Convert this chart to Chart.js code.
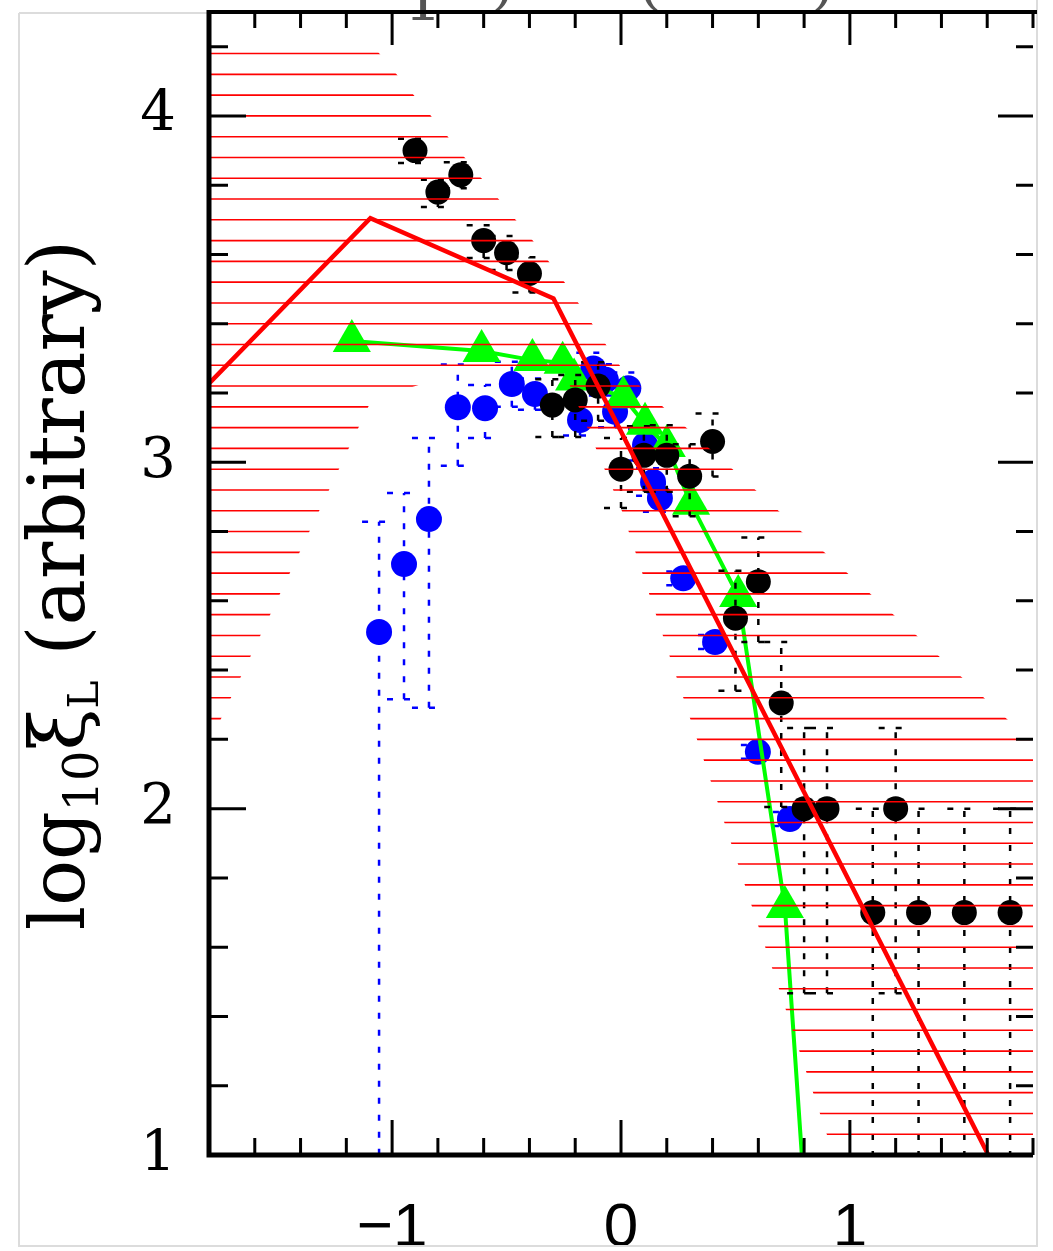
<!DOCTYPE html>
<html>
<head>
<meta charset="utf-8">
<script src="https://cdn.jsdelivr.net/npm/chart.js"></script>
<style>
  body { margin: 0; background: #fff; }
  #wrap { width: 1053px; height: 1251px; }
</style>
</head>
<body>
<div id="wrap"><canvas id="chart" width="1053" height="1251"></canvas></div>
<script>
// values: log10 xi_L (arbitrary) against x

// black circles, dashed error bars
var blackX = [-0.9, -0.8, -0.7, -0.6, -0.5, -0.4, -0.3, -0.2, -0.1, 0.0, 0.1, 0.2, 0.3, 0.4, 0.5, 0.6, 0.7, 0.8, 0.9, 1.1, 1.2, 1.3, 1.5, 1.7];
var blackY = [3.90, 3.78, 3.83, 3.64, 3.605, 3.545, 3.165, 3.18, 3.22, 2.98, 3.02, 3.02, 2.96, 3.06, 2.55, 2.655, 2.305, 2.0, 2.0, 1.7, 2.0, 1.7, 1.7, 1.7];
var blackErrUp = [0.034, 0.036, 0.036, 0.044, 0.048, 0.047, 0.075, 0.072, 0.069, 0.09, 0.084, 0.087, 0.092, 0.081, 0.137, 0.128, 0.176, 0.233, 0.233, 0.30, 0.233, 0.30, 0.30, 0.30];
var blackErrDown = [0.036, 0.043, 0.039, 0.05, 0.05, 0.055, 0.092, 0.107, 0.10, 0.112, 0.105, 0.105, 0.116, 0.101, 0.21, 0.174, 0.30, 0.533, 0.533, 1.0, 0.533, 1.0, 1.0, 1.0];

// blue circles, dotted error bars
var blueX = [-1.057, -0.948, -0.839, -0.713, -0.594, -0.477, -0.376, -0.179, -0.121, -0.066, -0.026, 0.032, 0.105, 0.14, 0.17, 0.272, 0.411, 0.598, 0.738];
var blueY = [2.51, 2.706, 2.836, 3.159, 3.156, 3.226, 3.197, 3.122, 3.271, 3.238, 3.146, 3.214, 3.05, 2.943, 2.897, 2.665, 2.481, 2.164, 1.97];
var blueErrUp = [0.318, 0.205, 0.234, 0.123, 0.067, 0.064, 0.045, 0.045, 0.045, 0.045, 0.045, 0.045, 0.045, 0.04, 0.04, 0.02, 0.02, 0.02, 0.02];
var blueErrDown = [2.0, 0.39, 0.545, 0.169, 0.086, 0.066, 0.045, 0.045, 0.045, 0.045, 0.045, 0.045, 0.045, 0.04, 0.04, 0.02, 0.02, 0.02, 0.02];

// green triangles joined by a line
var greenX = [-1.176, -0.609, -0.387, -0.255, -0.205, 0.01, 0.105, 0.20, 0.306, 0.512, 0.716, 0.82];
var greenY = [3.35, 3.321, 3.295, 3.287, 3.239, 3.188, 3.111, 3.047, 2.88, 2.614, 1.716, 0.71];

// red broken line
var redX = [-1.9, -1.095, -0.295, 1.7];
var redY = [3.16, 3.705, 3.473, 0.876];

// hatched band: outer and inner edges
var bandOuterX = [-1.9, -1.08, -0.83, -0.607, -0.384, -0.245, -0.004, 0.087, 0.485, 0.887, 1.289, 1.686, 1.9];
var bandOuterY = [4.2, 4.2, 4.0, 3.818, 3.639, 3.518, 3.278, 3.217, 2.981, 2.741, 2.501, 2.259, 2.13];
var bandInnerX = [-1.9, -1.09, -0.85, -0.55, -0.235, 0.004, 0.9, 1.9];
var bandInnerY = [2.046, 3.18, 3.23, 3.265, 3.24, 2.859, 1.058, -0.95];

function pts(xs, ys) {
  return xs.map(function (x, i) { return { x: x, y: ys[i] }; });
}

var serif = "'DejaVu Serif', 'Liberation Serif', serif";

function isStep(v) { return Math.abs(v / 0.2 - Math.round(v / 0.2)) < 1e-6; }
function isInt(v) { return Math.abs(v - Math.round(v)) < 1e-6; }

var errorBars = {
  id: 'errorBars',
  beforeDatasetDraw: function (chart, args) {
    var ds = chart.data.datasets[args.index];
    if (!ds.errUp) return;
    var ctx = chart.ctx, ys = chart.scales.y, a = chart.chartArea;
    ctx.save();
    ctx.beginPath();
    ctx.rect(a.left, a.top, a.right - a.left, a.bottom - a.top);
    ctx.clip();
    ctx.strokeStyle = ds.errColor;
    ctx.lineWidth = 2.5;
    ctx.setLineDash([6, 11]);
    args.meta.data.forEach(function (p, i) {
      var v = ds.data[i].y;
      var top = ys.getPixelForValue(v + ds.errUp[i]);
      var bot = ys.getPixelForValue(v - ds.errDown[i]);
      ctx.beginPath();
      ctx.moveTo(p.x, bot); ctx.lineTo(p.x, top);
      ctx.moveTo(p.x - 17, top); ctx.lineTo(p.x + 17, top);
      ctx.moveTo(p.x - 17, bot); ctx.lineTo(p.x + 17, bot);
      ctx.stroke();
    });
    ctx.restore();
  }
};

var hatch = {
  id: 'hatch',
  afterDatasetsDraw: function (chart) {
    var ctx = chart.ctx, a = chart.chartArea, ys = chart.scales.y;
    var outer = chart.getDatasetMeta(0).data, inner = chart.getDatasetMeta(1).data;
    ctx.save();
    ctx.beginPath();
    ctx.rect(a.left, a.top, a.right - a.left, a.bottom - a.top);
    ctx.clip();
    ctx.beginPath();
    outer.forEach(function (p, i) { if (i) ctx.lineTo(p.x, p.y); else ctx.moveTo(p.x, p.y); });
    for (var i = inner.length - 1; i >= 0; i--) ctx.lineTo(inner[i].x, inner[i].y);
    ctx.closePath();
    ctx.clip();
    ctx.strokeStyle = '#ff0000';
    ctx.lineWidth = 1.6;
    for (var k = 0; k < 60; k++) {
      var v = 4.18 - 0.06 * k;
      if (v < ys.min) break;
      var py = ys.getPixelForValue(v);
      ctx.beginPath();
      ctx.moveTo(a.left, py);
      ctx.lineTo(a.right, py);
      ctx.stroke();
    }
    ctx.restore();
  }
};

var frame = {
  id: 'frame',
  afterDraw: function (chart) {
    var ctx = chart.ctx, a = chart.chartArea, xs = chart.scales.x, ys = chart.scales.y;
    ctx.save();

    // faint edges of the cropped figure
    ctx.strokeStyle = '#dcdcdc';
    ctx.lineWidth = 2;
    ctx.beginPath();
    ctx.moveTo(19, 13); ctx.lineTo(19, 1246); ctx.lineTo(1038, 1246);
    ctx.moveTo(1037, 0); ctx.lineTo(1037, 1246);
    ctx.moveTo(19, 13); ctx.lineTo(a.left, 13);
    ctx.stroke();

    // bottoms of the cut-off heading
    ctx.fillStyle = '#555';
    ctx.font = '60px ' + serif;
    ctx.textAlign = 'center';
    ctx.textBaseline = 'alphabetic';
    ctx.fillText('1', 423, a.top + 9);
    ctx.fillText(')', 503, a.top - 9);
    ctx.fillText('(', 650, a.top - 9);
    ctx.fillText(')', 823, a.top - 9);

    // axis lines
    ctx.strokeStyle = '#000';
    ctx.lineWidth = 4;
    ctx.beginPath();
    ctx.moveTo(a.left, a.top); ctx.lineTo(a.right + 4, a.top);
    ctx.stroke();
    ctx.lineWidth = 5;
    ctx.beginPath();
    ctx.moveTo(a.left, a.top - 2); ctx.lineTo(a.left, a.bottom); ctx.lineTo(a.right, a.bottom);
    ctx.stroke();

    // inward ticks on all four sides
    ctx.lineWidth = 3;
    ctx.beginPath();
    xs.ticks.forEach(function (t) {
      if (!isStep(t.value)) return;
      var px = xs.getPixelForValue(t.value);
      var big = isInt(t.value);
      ctx.moveTo(px, a.bottom); ctx.lineTo(px, a.bottom - (big ? 35 : 17));
      ctx.moveTo(px, a.top); ctx.lineTo(px, a.top + (big ? 33 : 16));
    });
    ys.ticks.forEach(function (t) {
      if (!isStep(t.value)) return;
      var py = ys.getPixelForValue(t.value);
      var big = isInt(t.value);
      ctx.moveTo(a.left, py); ctx.lineTo(a.left + (big ? 37 : 19), py);
      ctx.moveTo(a.right, py); ctx.lineTo(a.right - (big ? 35 : 17), py);
    });
    ctx.stroke();

    // y title: log10 xi_L (arbitrary)
    var parts = [
      { t: 'log', s: 76, dy: 0 },
      { t: '10', s: 48, dy: 14 },
      { t: '\u03be', s: 76, dy: 0 },
      { t: 'L', s: 42, dy: 14 },
      { t: ' (arbitrary)', s: 78, dy: 0 }
    ];
    var total = 0;
    parts.forEach(function (p) { ctx.font = p.s + 'px ' + serif; p.w = ctx.measureText(p.t).width; total += p.w; });
    ctx.translate(84, 585 + total / 2);
    ctx.rotate(-Math.PI / 2);
    ctx.fillStyle = '#000';
    ctx.textAlign = 'left';
    var cx = 0;
    parts.forEach(function (p) {
      ctx.font = p.s + 'px ' + serif;
      ctx.fillText(p.t, cx, p.dy);
      cx += p.w;
    });
    ctx.restore();
  }
};

new Chart(document.getElementById('chart'), {
  type: 'scatter',
  data: {
    datasets: [
      { data: pts(bandOuterX, bandOuterY), showLine: false, pointRadius: 0, order: 10 },
      { data: pts(bandInnerX, bandInnerY), showLine: false, pointRadius: 0, order: 10 },
      {
        data: pts(blueX, blueY), errUp: blueErrUp, errDown: blueErrDown, errColor: '#0000ff',
        pointRadius: 13, pointBackgroundColor: '#0000ff', pointBorderWidth: 0, order: 5
      },
      {
        data: pts(greenX, greenY), showLine: true, borderColor: '#00ff00', borderWidth: 4,
        pointStyle: 'triangle', pointRadius: 22, pointBackgroundColor: '#00ff00', pointBorderWidth: 0,
        clip: 0, order: 4
      },
      {
        data: pts(blackX, blackY), errUp: blackErrUp, errDown: blackErrDown, errColor: '#000000',
        pointRadius: 12.5, pointBackgroundColor: '#000000', pointBorderWidth: 0, order: 3
      },
      {
        data: pts(redX, redY), showLine: true, borderColor: '#ff0000', borderWidth: 4.5,
        pointRadius: 0, clip: 0, order: 2
      }
    ]
  },
  options: {
    responsive: false,
    animation: false,
    events: [],
    layout: { autoPadding: false, padding: { left: 0, right: 20, top: 12, bottom: 0 } },
    plugins: { legend: { display: false }, tooltip: { enabled: false } },
    scales: {
      x: {
        type: 'linear', min: -1.8, max: 1.8,
        grid: { display: false, drawTicks: false },
        border: { display: false },
        ticks: {
          stepSize: 0.2, autoSkip: false, maxRotation: 0, padding: 37, color: '#000',
          font: { family: "'Liberation Sans', Arimo, sans-serif", size: 62 },
          callback: function (v) {
            if (!isInt(v)) return '';
            var n = Math.round(v);
            return n < 0 ? '\u2212' + Math.abs(n) : String(n);
          }
        },
        afterFit: function (s) { s.height = 96; s.paddingLeft = 0; s.paddingRight = 0; }
      },
      y: {
        type: 'linear', min: 1, max: 4.3,
        grid: { display: false, drawTicks: false },
        border: { display: false },
        ticks: {
          stepSize: 0.2, autoSkip: false, padding: 33, color: '#000',
          font: { family: serif, size: 56, lineHeight: 0.3 },
          callback: function (v) { return isInt(v) ? String(Math.round(v)) : ''; }
        },
        afterFit: function (s) { s.width = 209; s.paddingTop = 0; s.paddingBottom = 0; }
      }
    }
  },
  plugins: [errorBars, hatch, frame]
});
</script>
</body>
</html>
